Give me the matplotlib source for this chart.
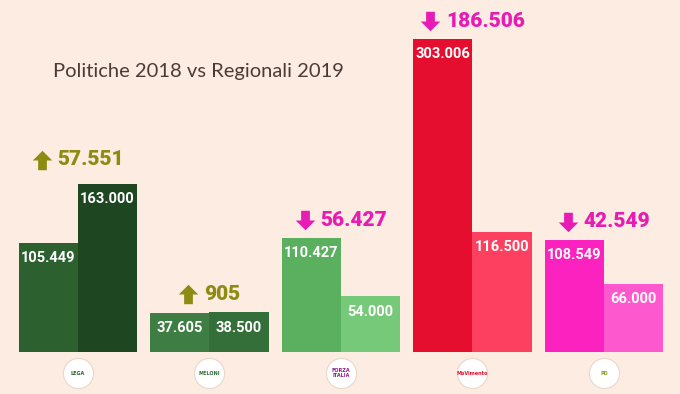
import matplotlib
matplotlib.use('Agg')
import matplotlib.pyplot as plt
from matplotlib.path import Path
from matplotlib.transforms import offset_copy
import numpy as np

parties = ['Lega', "Fratelli d'Italia", 'Forza Italia', 'Movimento 5 Stelle', 'PD']
politiche_2018 = [105449, 37605, 110427, 303006, 108549]
regionali_2019 = [163000, 38500, 54000, 116500, 66000]
diff_labels = ['57.551', '905', '56.427', '186.506', '42.549']
diff_up = [True, True, False, False, False]
logo_texts = ['LEGA', 'MELONI', 'FORZA\nITALIA', 'MoVimento', 'PD']

col_2018 = ['#2c612f', '#3e7d43', '#5bb05f', '#e60e2f', '#fb22c0']
col_2019 = ['#1e4621', '#346e39', '#75c979', '#fd405f', '#fe58cf']
logo_cols = ['#2b5f2e', '#2f6a35', '#8a1a8a', '#e60e2f', '#8a9a1a']
bg = '#fdece1'
up_col = '#8e8b12'
down_col = '#e71cb4'

fig = plt.figure(figsize=(6.8, 3.94), dpi=100, facecolor=bg)
ax = fig.add_axes([0, 42 / 394, 1, 352 / 394])
ax.set_facecolor(bg)
ax.axis('off')

x = np.arange(len(parties))
w = 0.45
ax.bar(x - w / 2, politiche_2018, width=w, color=col_2018)
ax.bar(x + w / 2, regionali_2019, width=w, color=col_2019)
ax.set_xlim(-0.593, 4.578)
ax.set_ylim(0, 341000)

fmt = lambda v: f'{v:,}'.replace(',', '.')
for i in range(len(parties)):
    for xx, v in [(x[i] - w / 2, politiche_2018[i]), (x[i] + w / 2, regionali_2019[i])]:
        ax.annotate(fmt(v), (xx, v), xytext=(0, -11), textcoords='offset points',
                    ha='center', va='center', color='white', fontsize=10.5,
                    fontweight='bold', family='Roboto')

# freccia piena
arrow = Path([(-0.45, -1), (0.45, -1), (0.45, 0.0), (1, 0.0), (0, 1),
              (-1, 0.0), (-0.45, 0.0), (-0.45, -1)],
             [Path.MOVETO] + [Path.LINETO] * 6 + [Path.CLOSEPOLY])
arrow_down = Path(arrow.vertices * [1, -1], arrow.codes)

fig.canvas.draw()
r = fig.canvas.get_renderer()
for i in range(len(parties)):
    top = max(politiche_2018[i], regionali_2019[i])
    c = up_col if diff_up[i] else down_col
    t = ax.text(x[i], top, diff_labels[i], ha='left', va='center', fontsize=15,
                fontweight='black', family='Roboto', color=c)
    tw = t.get_window_extent(r).width
    total = 20 + 6 + tw
    dy = 18 if i else 24
    t.set_transform(offset_copy(ax.transData, fig=fig, x=-total / 2 + 26, y=dy, units='dots'))
    ax.plot([x[i]], [top], linestyle='none', marker=arrow if diff_up[i] else arrow_down,
            markersize=14, color=c, markeredgewidth=0,
            transform=offset_copy(ax.transData, fig=fig, x=-total / 2 + 10, y=dy, units='dots'))

# loghi (cerchi)
ylogo = -20500
ax.scatter(x, [ylogo] * len(x), s=470, color='white', edgecolor='#e8d8cc',
           linewidth=0.8, clip_on=False, zorder=3)
for i in range(len(parties)):
    ax.text(x[i], ylogo, logo_texts[i], ha='center', va='center', fontsize=3.5,
            fontweight='bold', color=logo_cols[i], clip_on=False, zorder=4,
            linespacing=0.9)

fig.text(53 / 680, 1 - 72 / 394, 'Politiche 2018 vs Regionali 2019', ha='left',
         va='center', fontsize=14.5, color='#4a3b37', family='Lato')

plt.savefig('out.png', dpi=100, facecolor=bg)
